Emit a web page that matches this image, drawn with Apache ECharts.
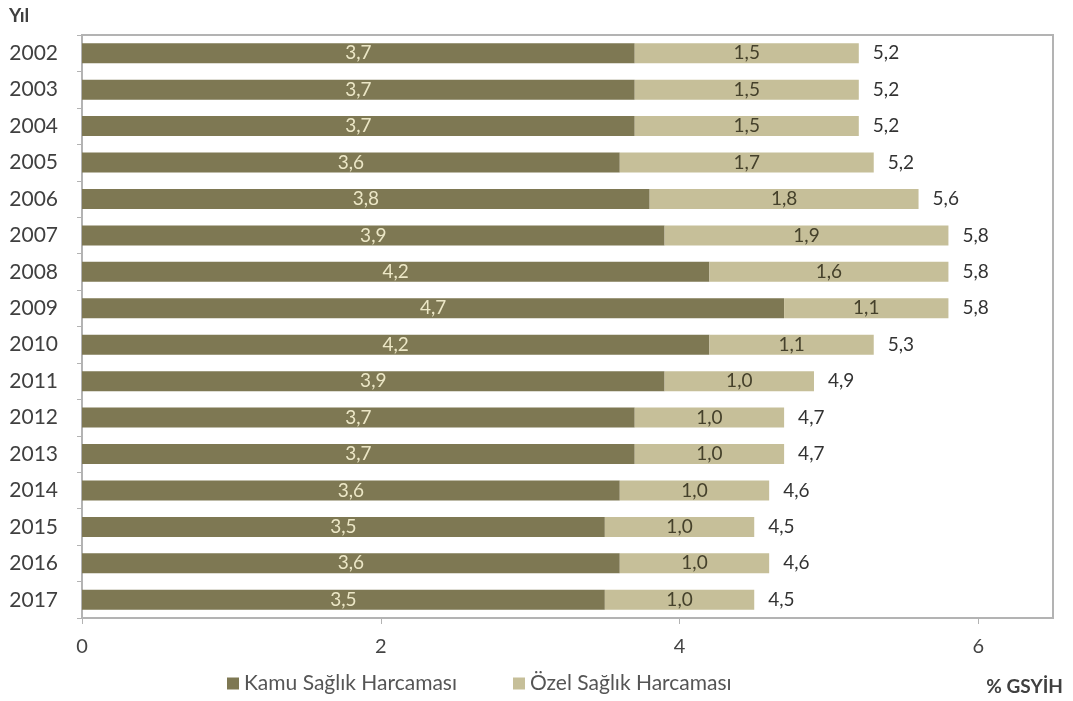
<!DOCTYPE html>
<html>
<head>
<meta charset="utf-8">
<script src="https://cdn.jsdelivr.net/npm/echarts@6/dist/echarts.min.js"></script>
<style>
  html, body { margin: 0; padding: 0; background: #ffffff; }
  #chart { width: 1073px; height: 701px; }
</style>
</head>
<body>
<div id="chart"></div>
<script>
// Health expenditure as % of GDP, public vs private, by year
const years = ['2002','2003','2004','2005','2006','2007','2008','2009','2010','2011','2012','2013','2014','2015','2016','2017'];
const kamu  = [3.7, 3.7, 3.7, 3.6, 3.8, 3.9, 4.2, 4.7, 4.2, 3.9, 3.7, 3.7, 3.6, 3.5, 3.6, 3.5];
const ozel  = [1.5, 1.5, 1.5, 1.7, 1.8, 1.9, 1.6, 1.1, 1.1, 1.0, 1.0, 1.0, 1.0, 1.0, 1.0, 1.0];
const toplam = [5.2, 5.2, 5.2, 5.2, 5.6, 5.8, 5.8, 5.8, 5.3, 4.9, 4.7, 4.7, 4.6, 4.5, 4.6, 4.5];
const xTicks = [0, 2, 4, 6];

const FONT = 'Lato';
const fmt = v => v.toFixed(1).replace('.', ',');

const chart = echarts.init(document.getElementById('chart'), null, { renderer: 'canvas' });

chart.setOption({
  backgroundColor: '#ffffff',
  animation: false,
  textStyle: { fontFamily: FONT },
  grid: {
    left: 82, right: 20, top: 35, bottom: 83,
    show: true, borderColor: '#b3b3b3', borderWidth: 2, backgroundColor: 'transparent'
  },
  legend: {
    data: ['Kamu Sağlık Harcaması', 'Özel Sağlık Harcaması'],
    bottom: 2, left: 222,
    itemWidth: 12, itemHeight: 12, itemGap: 56,
    icon: 'rect',
    textStyle: { fontFamily: FONT, fontSize: 21, color: '#555555' }
  },
  xAxis: {
    type: 'value', min: 0, max: 6.5, interval: 2,
    axisLine: { show: true, lineStyle: { color: '#b3b3b3', width: 2 } },
    axisTick: { show: true, length: 6, lineStyle: { color: '#b3b3b3' },
                customValues: xTicks },
    axisLabel: { fontFamily: FONT, fontSize: 20, color: '#444444', margin: 19,
                 customValues: xTicks, formatter: v => String(v) },
    splitLine: { show: false }
  },
  yAxis: {
    type: 'category', data: years, inverse: true,
    axisLine: { show: true, lineStyle: { color: '#b3b3b3', width: 2 } },
    axisTick: { show: true, length: 5, lineStyle: { color: '#b3b3b3' } },
    axisLabel: { fontFamily: FONT, fontSize: 21, color: '#404040', margin: 24 }
  },
  series: [
    {
      name: 'Kamu Sağlık Harcaması', type: 'bar', stack: 'gsyih',
      data: kamu, barWidth: '55%',
      itemStyle: { color: '#7e7853' },
      label: { show: true, position: 'inside', formatter: p => fmt(p.value),
               fontFamily: FONT, fontSize: 19, color: '#ece7c6' }
    },
    {
      name: 'Özel Sağlık Harcaması', type: 'bar', stack: 'gsyih',
      data: ozel, barWidth: '55%',
      itemStyle: { color: '#c6bf99' },
      label: { show: true, position: 'inside', formatter: p => fmt(p.value),
               fontFamily: FONT, fontSize: 19, color: '#45412b' }
    },
    {
      // zero-length segment at the end of each stack carrying the total
      name: 'Toplam', type: 'bar', stack: 'gsyih',
      data: toplam.map(() => 0), barWidth: '55%',
      itemStyle: { color: 'transparent' },
      label: { show: true, position: 'right', distance: 14,
               formatter: p => fmt(toplam[p.dataIndex]),
               fontFamily: FONT, fontSize: 19, color: '#333333' }
    }
  ],
  graphic: [
    { type: 'text', left: 9, top: 6,
      style: { text: 'Yıl', fontFamily: FONT, fontSize: 19, fontWeight: 'bold', fill: '#404040' } },
    { type: 'text', right: 10, top: 677,
      style: { text: '% GSYİH', fontFamily: FONT, fontSize: 19, fontWeight: 'bold', fill: '#404040' } }
  ]
});
</script>
</body>
</html>
